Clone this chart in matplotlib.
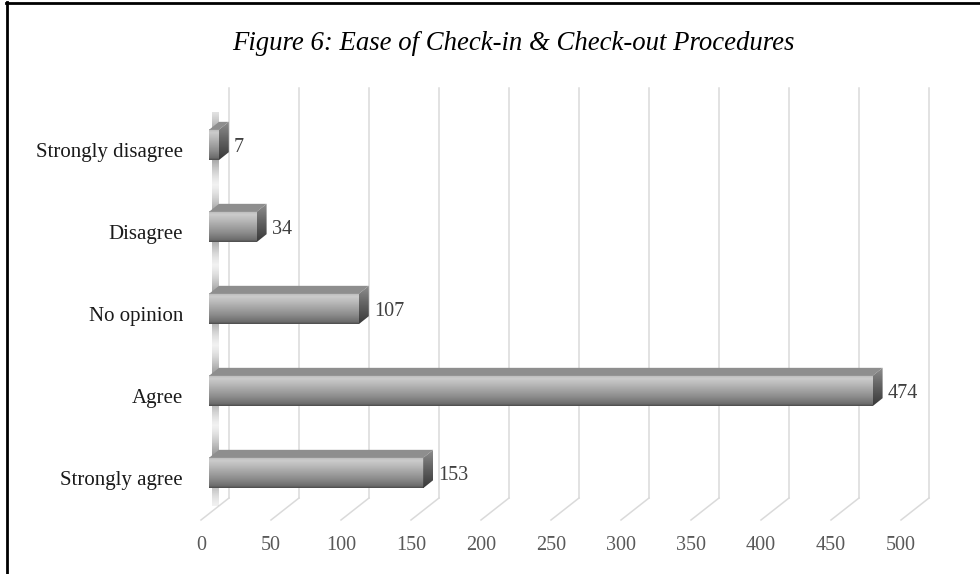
import numpy as np
import matplotlib.pyplot as plt
from matplotlib.patches import Polygon

# survey responses, bottom to top
categories = ["Strongly agree", "Agree", "No opinion", "Disagree", "Strongly disagree"]
responses = [153, 474, 107, 34, 7]
xticks = list(range(0, 501, 50))
title = "Figure 6: Ease of Check-in & Check-out Procedures"

plt.rcParams['font.family'] = ['Liberation Serif', 'DejaVu Serif']

fig = plt.figure(figsize=(9.8, 5.74), dpi=100)
ax = fig.add_axes([209 / 980, 60 / 574, 700 / 980, 410 / 574])
xmax = 500
ymin, ymax = -0.5, len(categories) - 0.5
ax.set_xlim(0, xmax)
ax.set_ylim(ymin, ymax)
ax.axis('off')

# data units per pixel, used for the fake 3d depth
sx = xmax / ax.bbox.width
sy = (ymax - ymin) / ax.bbox.height

bar_dx, bar_dy = 10 * sx, 8 * sy        # bar depth
back_dx, back_dy = 20 * sx, 16 * sy     # back wall
front_dx, front_dy = -8 * sx, -6 * sy   # front edge of the floor
bar_h = 0.37

# back wall gridlines and floor lines
for t in xticks:
    ax.plot([t + back_dx, t + back_dx], [ymin + back_dy, ymax + back_dy],
            color='#dadada', lw=1.1, zorder=1, clip_on=False)
    ax.plot([t + back_dx, t + front_dx], [ymin + back_dy, ymin + front_dy],
            color='#dadada', lw=1.1, zorder=1, clip_on=False)
    ax.text(t + front_dx, ymin + front_dy - 25 * sy, str(t), ha='center', va='center',
            fontsize=14.5, color='#595959')

# shaded side wall behind the bars
yy = np.linspace(ymin, ymax - 0.1, 400)
shade = np.zeros((400, 1, 4))
shade[..., :3] = 0.42
dist = (yy - np.round(yy)) / 0.34
shade[:, 0, 3] = 0.8 * np.exp(-dist ** 2)
ax.imshow(shade, extent=[3 * sx, 10 * sx, ymin + 0.1, ymax - 0.1], origin='lower',
          aspect='auto', interpolation='bilinear', zorder=1.5)

# vertical shading of the bar faces
g = np.linspace(0, 1, 60)
face = np.interp(g, [0, 0.06, 0.3, 0.7, 0.9, 1.0], [0.30, 0.42, 0.55, 0.72, 0.80, 0.72])
face = face.reshape(-1, 1)
cap = np.interp(g, [0, 0.5, 1.0], [0.22, 0.38, 0.56]).reshape(-1, 1)

for i, (cat, v) in enumerate(zip(categories, responses)):
    y0, y1 = i - bar_h / 2, i + bar_h / 2
    # front face
    ax.imshow(face, extent=[0, v, y0, y1], origin='lower', aspect='auto', cmap='gray',
              vmin=0, vmax=1, interpolation='bilinear', zorder=3)
    # top face
    ax.add_patch(Polygon([(0, y1), (v, y1), (v + bar_dx, y1 + bar_dy), (bar_dx, y1 + bar_dy)],
                         closed=True, facecolor='#8e8e8e', edgecolor='none', zorder=3))
    # end cap
    cap_poly = Polygon([(v, y0), (v, y1), (v + bar_dx, y1 + bar_dy), (v + bar_dx, y0 + bar_dy)],
                       closed=True, facecolor='none', edgecolor='none', zorder=3)
    ax.add_patch(cap_poly)
    im = ax.imshow(cap, extent=[v, v + bar_dx, y0, y1 + bar_dy], origin='lower', aspect='auto',
                   cmap='gray', vmin=0, vmax=1, interpolation='bilinear', zorder=3.1)
    im.set_clip_path(cap_poly)

    ax.text(v + bar_dx + 5 * sx, i - 2 * sy, str(v), ha='left', va='center',
            fontsize=14.5, color='#404040')
    ax.text(-26 * sx, i - 7 * sy, cat, ha='right', va='center', fontsize=15, color='#1a1a1a')

ax.set_xlim(0, xmax)
ax.set_ylim(ymin, ymax)

fig.text(513 / 980, 1 - 43 / 574, title, ha='center', va='center', fontsize=19.3,
         style='italic', color='black')

# frame around the chart (top and left edges)
fig.add_artist(plt.Line2D([6.5 / 980, 6.5 / 980], [0, 1 - 2 / 574], color='black', lw=2))
fig.add_artist(plt.Line2D([6 / 980, 1], [1 - 3 / 574, 1 - 3 / 574], color='black', lw=2))

fig.savefig('out.png', dpi=100)
